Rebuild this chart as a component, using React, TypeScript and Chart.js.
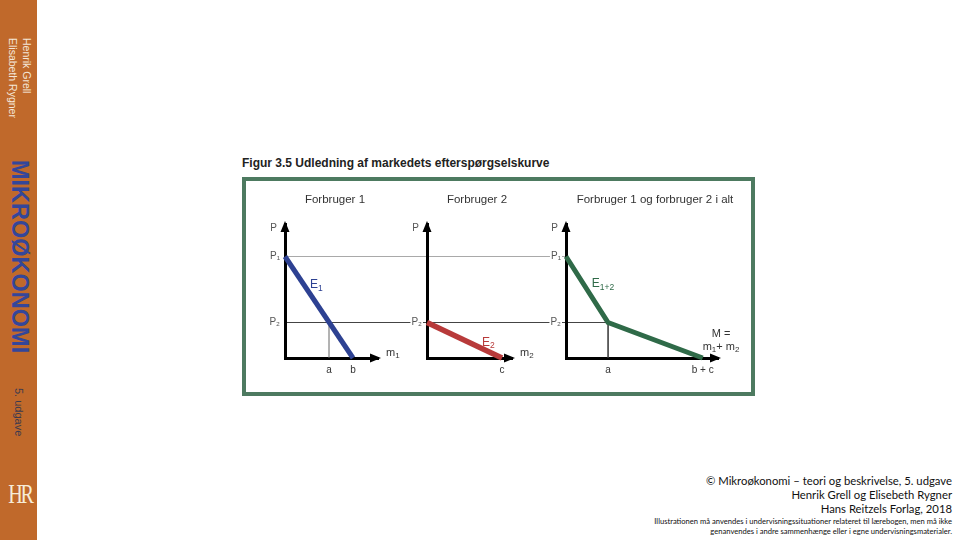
import React, { useEffect, useRef } from "react";
import { Chart, registerables } from "chart.js";
Chart.register(...registerables);

// ---------- values ----------
const PRICE_TOP = 13.2; // end of the price axis (arrow)
const P1 = 10; // price P1
const P2 = 3.5; // price P2
const QTY_A = 4.4; // quantity a
const QTY_B = 6.8; // quantity b
const QTY_C = 7.5; // quantity c
const QTY_TOP = [9.3, 8.5, 15.9]; // end of each quantity axis (arrow)

const panelTitles = ["Forbruger 1", "Forbruger 2", "Forbruger 1 og forbruger 2 i alt"];

const demandConsumer1 = [
  { x: 0, y: P1 },
  { x: QTY_B, y: 0 },
];
const demandConsumer2 = [
  { x: 0, y: P2 },
  { x: QTY_C, y: 0 },
];
const demandMarket = [
  { x: 0, y: P1 },
  { x: QTY_A, y: P2 },
  { x: QTY_B + QTY_C, y: 0 },
];
const dropLineA = [
  { x: QTY_A, y: 0 },
  { x: QTY_A, y: P2 },
];

const priceTickValues = [[P2, P1], [P2], [P2, P1]];
const priceTickLabels = [["P₂", "P₁"], ["P₂"], ["P₂", "P₁"]];
const qtyTickValues = [[QTY_A, QTY_B], [QTY_C], [QTY_A, QTY_B + QTY_C]];
const qtyTickLabels = [["a", "b"], ["c"], ["a", "b + c"]];

type Run = [string, number]; // [text, isSubscript]
const curveNames: Run[][] = [
  [["E", 0], ["1", 1]],
  [["E", 0], ["2", 1]],
  [["E", 0], ["1+2", 1]],
];
const qtyAxisNames: Run[][][] = [
  [[["m", 0], ["1", 1]]],
  [[["m", 0], ["2", 1]]],
  [[["M =", 0]], [["m", 0], ["1", 1], ["+ m", 0], ["2", 1]]],
];
const priceAxisName = "P";

// ---------- layout / style ----------
const W = 960;
const H = 540;
const FONT = "'Liberation Sans', Arial, Helvetica, sans-serif";
const AXIS_LEFT = [285, 427, 566];
const AXIS_RIGHT = [378, 512, 718];
const AXIS_TOP = 224;
const AXIS_BOTTOM = 358;
const Y_AXIS_W = 40;
const X_AXIS_H = 24;
const CURVE_COLORS = ["#2d4192", "#b83a3a", "#2f6a48"];
const NAME_AT = [
  { x: 2.5, y: 7.3 },
  { x: 5.5, y: 1.6 },
  { x: 2.7, y: 7.4 },
];

function drawRuns(
  ctx: CanvasRenderingContext2D,
  runs: Run[],
  x: number,
  y: number,
  align: "left" | "center",
  size: number,
  subSize: number,
  color: string
) {
  ctx.save();
  ctx.fillStyle = color;
  ctx.textBaseline = "alphabetic";
  ctx.textAlign = "left";
  const widths = runs.map(([t, s]) => {
    ctx.font = `${s ? subSize : size}px ${FONT}`;
    return ctx.measureText(t).width;
  });
  const total = widths.reduce((a, b) => a + b, 0);
  let cx = align === "left" ? x : x - total / 2;
  runs.forEach(([t, s], k) => {
    ctx.font = `${s ? subSize : size}px ${FONT}`;
    ctx.fillText(t, cx, s ? y + size * 0.22 : y);
    cx += widths[k];
  });
  ctx.restore();
}

function arrowHead(ctx: CanvasRenderingContext2D, x: number, y: number, dir: "up" | "right") {
  ctx.beginPath();
  if (dir === "up") {
    ctx.moveTo(x, y);
    ctx.lineTo(x - 4.5, y + 11);
    ctx.lineTo(x + 4.5, y + 11);
  } else {
    ctx.moveTo(x, y);
    ctx.lineTo(x - 11, y - 4.5);
    ctx.lineTo(x - 11, y + 4.5);
  }
  ctx.closePath();
  ctx.fill();
}

function labelsPlugin(i: number) {
  return {
    id: "panelLabels" + i,
    afterDraw(chart: any) {
      const ctx: CanvasRenderingContext2D = chart.ctx;
      const { left, right, top, bottom } = chart.chartArea;
      ctx.save();
      ctx.fillStyle = "#000";
      arrowHead(ctx, left, top - 3, "up");
      arrowHead(ctx, right + 3, bottom, "right");
      ctx.fillStyle = "#555";
      ctx.font = `10px ${FONT}`;
      ctx.textAlign = "right";
      ctx.textBaseline = "alphabetic";
      ctx.fillText(priceAxisName, left - 8, top + 7);
      ctx.restore();
      const names = qtyAxisNames[i];
      if (names.length === 1) {
        drawRuns(ctx, names[0], right + 8, bottom - 2, "left", 11, 8, "#333");
      } else {
        drawRuns(ctx, names[0], right + 3, bottom - 21, "center", 11, 8, "#333");
        drawRuns(ctx, names[1], right + 3, bottom - 8, "center", 11, 8, "#333");
      }
      const xs = chart.scales.x;
      const ys = chart.scales.y;
      drawRuns(
        ctx,
        curveNames[i],
        xs.getPixelForValue(NAME_AT[i].x),
        ys.getPixelForValue(NAME_AT[i].y) + 4,
        "left",
        12,
        8.5,
        CURVE_COLORS[i]
      );
    },
  };
}

function guidesPlugin(first: Chart) {
  return {
    id: "guides",
    beforeDraw(chart: any) {
      const ctx: CanvasRenderingContext2D = chart.ctx;
      const xs = chart.scales.x;
      const ys = chart.scales.y;
      const startX = (first.scales as any).x.getPixelForValue(0);
      ctx.save();
      ctx.lineWidth = 1;
      ctx.strokeStyle = "#a9a9a9";
      const y1 = Math.round(ys.getPixelForValue(P1)) + 0.5;
      ctx.beginPath();
      ctx.moveTo(startX, y1);
      ctx.lineTo(xs.getPixelForValue(0), y1);
      ctx.stroke();
      ctx.strokeStyle = "#444";
      const y2 = Math.round(ys.getPixelForValue(P2)) + 0.5;
      ctx.beginPath();
      ctx.moveTo(startX, y2);
      ctx.lineTo(xs.getPixelForValue(QTY_A), y2);
      ctx.stroke();
      ctx.restore();
    },
  };
}

function curve(data: { x: number; y: number }[], color: string, width: number) {
  return {
    data,
    showLine: true,
    borderColor: color,
    backgroundColor: color,
    borderWidth: width,
    pointRadius: 0,
    fill: false,
    tension: 0,
    clip: false as any,
  };
}

function panelConfig(i: number, datasets: any[], plugins: any[]): any {
  return {
    type: "scatter",
    data: { datasets },
    options: {
      responsive: false,
      animation: false,
      events: [],
      layout: {
        padding: {
          left: AXIS_LEFT[i] - Y_AXIS_W,
          right: W - AXIS_RIGHT[i],
          top: AXIS_TOP,
          bottom: H - AXIS_BOTTOM - X_AXIS_H,
        },
      },
      plugins: { legend: { display: false }, tooltip: { enabled: false }, title: { display: false } },
      scales: {
        x: {
          type: "linear",
          min: 0,
          max: QTY_TOP[i],
          grid: { display: false, drawTicks: false },
          border: { display: true, color: "#000", width: 3 },
          afterFit: (s: any) => {
            s.height = X_AXIS_H;
          },
          afterBuildTicks: (s: any) => {
            s.ticks = qtyTickValues[i].map((v) => ({ value: v }));
          },
          ticks: {
            autoSkip: false,
            maxRotation: 0,
            padding: 6,
            color: "#333",
            font: { size: 10, family: FONT },
            callback: (_v: any, k: number) => qtyTickLabels[i][k],
          },
        },
        y: {
          type: "linear",
          min: 0,
          max: PRICE_TOP,
          grid: { display: false, drawTicks: false },
          border: { display: true, color: "#000", width: 3 },
          afterFit: (s: any) => {
            s.width = Y_AXIS_W;
          },
          afterBuildTicks: (s: any) => {
            s.ticks = priceTickValues[i].map((v) => ({ value: v }));
          },
          ticks: {
            autoSkip: false,
            padding: 5,
            color: "#555",
            font: { size: 10, family: FONT },
            showLabelBackdrop: i > 0,
            backdropColor: "#ffffff",
            backdropPadding: 1,
            callback: (_v: any, k: number) => priceTickLabels[i][k],
          },
        },
      },
    },
    plugins,
  };
}

export default function App() {
  const r1 = useRef<HTMLCanvasElement>(null);
  const r2 = useRef<HTMLCanvasElement>(null);
  const r3 = useRef<HTMLCanvasElement>(null);

  useEffect(() => {
    const c1 = new Chart(
      r1.current!,
      panelConfig(0, [curve(demandConsumer1, CURVE_COLORS[0], 5), curve(dropLineA, "#666", 1)], [labelsPlugin(0)])
    );
    const c2 = new Chart(r2.current!, panelConfig(1, [curve(demandConsumer2, CURVE_COLORS[1], 5.5)], [labelsPlugin(1)]));
    const c3 = new Chart(
      r3.current!,
      panelConfig(
        2,
        [curve(demandMarket, CURVE_COLORS[2], 5), curve(dropLineA, "#333", 1.5)],
        [guidesPlugin(c1), labelsPlugin(2)]
      )
    );
    return () => {
      c1.destroy();
      c2.destroy();
      c3.destroy();
    };
  }, []);

  const canvasStyle = (z: number): React.CSSProperties => ({
    position: "absolute",
    left: 0,
    top: 0,
    width: W,
    height: H,
    zIndex: z,
    pointerEvents: "none",
  });
  const titleCenters = [335, 477, 655];

  return (
    <div
      style={{
        position: "fixed",
        left: 0,
        top: 0,
        width: W,
        height: H,
        background: "#fff",
        overflow: "hidden",
        fontFamily: FONT,
      }}
    >
      {/* sidebar */}
      <div style={{ position: "absolute", left: 0, top: 0, width: 37, height: H, background: "#c0692b" }}>
        <div
          style={{
            position: "absolute",
            left: 6,
            top: 38,
            writingMode: "vertical-rl",
            fontSize: 10.5,
            lineHeight: "14px",
            color: "#f4e6d8",
            whiteSpace: "nowrap",
          }}
        >
          Henrik Grell
          <br />
          Elisabeth Rygner
        </div>
        <div
          style={{
            position: "absolute",
            left: 7,
            top: 160,
            writingMode: "vertical-rl",
            fontSize: 23.5,
            fontWeight: 700,
            lineHeight: "26px",
            color: "#34469a",
            whiteSpace: "nowrap",
          }}
        >
          MIKROØKONOMI
        </div>
        <div
          style={{
            position: "absolute",
            left: 12,
            top: 388,
            writingMode: "vertical-rl",
            fontSize: 11,
            lineHeight: "14px",
            color: "#3b3a4f",
            whiteSpace: "nowrap",
          }}
        >
          5. udgave
        </div>
        <div
          style={{
            position: "absolute",
            left: 4,
            top: 478,
            width: 30,
            textAlign: "center",
            fontFamily: "'Liberation Serif', 'DejaVu Serif', serif",
            fontSize: 28,
            lineHeight: "32px",
            color: "#f6ecd8",
            transform: "scaleX(0.72)",
            letterSpacing: -3,
          }}
        >
          HR
        </div>
      </div>

      {/* figure title */}
      <div
        style={{
          position: "absolute",
          left: 242,
          top: 156,
          fontSize: 12,
          lineHeight: "14px",
          fontWeight: 700,
          color: "#222",
          whiteSpace: "nowrap",
        }}
      >
        Figur 3.5 Udledning af markedets efterspørgselskurve
      </div>

      {/* figure box */}
      <div
        style={{
          position: "absolute",
          left: 242,
          top: 177,
          width: 513,
          height: 219,
          boxSizing: "border-box",
          border: "4px solid #4d7a60",
          background: "#fff",
          zIndex: 0,
        }}
      />
      {panelTitles.map((t, k) => (
        <div
          key={t}
          style={{
            position: "absolute",
            left: titleCenters[k] - 120,
            width: 240,
            top: 192,
            textAlign: "center",
            fontSize: 11.5,
            lineHeight: "14px",
            color: "#333",
            zIndex: 3,
          }}
        >
          {t}
        </div>
      ))}

      <canvas ref={r3} width={W} height={H} style={canvasStyle(1)} />
      <canvas ref={r1} width={W} height={H} style={canvasStyle(2)} />
      <canvas ref={r2} width={W} height={H} style={canvasStyle(2)} />

      {/* footer */}
      <div
        style={{
          position: "absolute",
          right: 8,
          top: 474,
          textAlign: "right",
          fontFamily: "Lato, 'Open Sans', sans-serif",
          fontSize: 11.3,
          lineHeight: "14px",
          color: "#111",
          whiteSpace: "nowrap",
        }}
      >
        © Mikroøkonomi – teori og beskrivelse, 5. udgave
        <br />
        Henrik Grell og Elisebeth Rygner
        <br />
        Hans Reitzels Forlag, 2018
      </div>
      <div
        style={{
          position: "absolute",
          right: 8,
          top: 516,
          textAlign: "right",
          fontFamily: "Lato, 'Open Sans', sans-serif",
          fontSize: 7.6,
          lineHeight: "10px",
          color: "#111",
          whiteSpace: "nowrap",
        }}
      >
        Illustrationen må anvendes i undervisningssituationer relateret til lærebogen, men må ikke
        <br />
        genanvendes i andre sammenhænge eller i egne undervisningsmaterialer.
      </div>
    </div>
  );
}
